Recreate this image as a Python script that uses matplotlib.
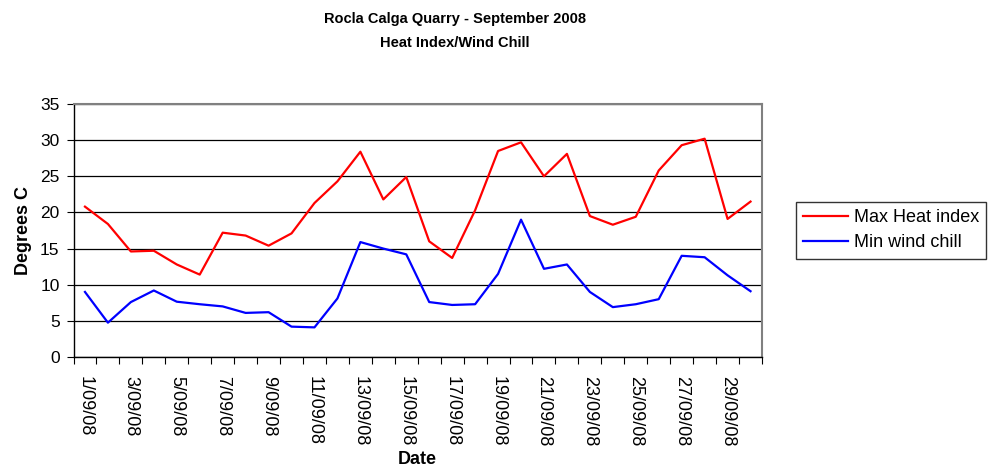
import numpy as np
import matplotlib
matplotlib.use("Agg")
import matplotlib.pyplot as plt

plt.rcParams['font.family'] = ['Liberation Sans', 'DejaVu Sans']

# ── Data ──────────────────────────────────────────────────────────────────────
days = [f"{d}/09/08" for d in range(1, 31)]
max_heat = [20.8, 18.4, 14.6, 14.7, 12.8, 11.4, 17.2, 16.8, 15.4, 17.1,
            21.3, 24.3, 28.4, 21.8, 24.9, 16.0, 13.7, 20.3, 28.5, 29.7,
            25.0, 28.1, 19.5, 18.3, 19.4, 25.8, 29.3, 30.2, 19.1, 21.5]
min_chill = [9.0, 4.75, 7.6, 9.2, 7.65, 7.3, 7.0, 6.1, 6.2, 4.2,
             4.1, 8.1, 15.9, 15.0, 14.2, 7.6, 7.2, 7.3, 11.5, 19.0,
             12.2, 12.8, 9.0, 6.9, 7.3, 8.0, 14.0, 13.8, 11.3, 9.1]
y_ticks = [0, 5, 10, 15, 20, 25, 30, 35]

# ── Figure ────────────────────────────────────────────────────────────────────
W, H = 989, 472
fig = plt.figure(figsize=(W / 100, H / 100), dpi=100)
ax = fig.add_axes([73.5 / W, 1 - 357 / H, (762 - 73.5) / W, (357 - 104) / H])

x = np.arange(len(days))
ax.plot(x, max_heat, color='#ff0000', lw=1.6, label='Max Heat index')
ax.plot(x, min_chill, color='#0000ff', lw=1.6, label='Min wind chill')

ax.set_xlim(-0.5, len(days) - 0.5)
ax.set_ylim(0, 35)
ax.set_yticks(y_ticks)
ax.yaxis.grid(True, color='black', lw=0.9)
ax.set_axisbelow(True)

# category axis: tick marks on boundaries, labels on every other category
ax.set_xticks(np.arange(-0.5, len(days)), minor=False)
ax.set_xticklabels([])
ax.set_xticks(x[::2], minor=True)
ax.set_xticklabels(days[::2], minor=True, rotation=270, fontsize=13)
ax.tick_params(axis='x', which='minor', length=0, pad=14)
ax.tick_params(axis='x', which='major', length=5, direction='out', color='black')
ax.tick_params(axis='y', length=5, direction='out', labelsize=12.5, color='black', pad=5)

for side in ['top', 'right']:
    ax.spines[side].set_color('#808080')
    ax.spines[side].set_linewidth(1.5)
for side in ['left', 'bottom']:
    ax.spines[side].set_color('black')
    ax.spines[side].set_linewidth(1.0)

ax.set_ylabel("Degrees C", fontsize=13, fontweight='bold', labelpad=6)
fig.text(417 / W, 1 - 460 / H, "Date", ha='center', va='center',
         fontsize=13, fontweight='bold')

fig.text(0.46, 0.96, "Rocla Calga Quarry - September 2008", ha='center', va='center',
         fontsize=10.5, fontweight='bold')
fig.text(0.46, 0.908, "Heat Index/Wind Chill", ha='center', va='center',
         fontsize=10.5, fontweight='bold')

leg = fig.legend(loc='upper left', bbox_to_anchor=(796 / W, 1 - 202 / H), fontsize=13,
                 frameon=True, fancybox=False, edgecolor='black', handlelength=2.5,
                 handletextpad=0.3, borderpad=0.4, labelspacing=0.45, borderaxespad=0)
leg.get_frame().set_linewidth(1.0)

fig.savefig("out.png", dpi=100)
